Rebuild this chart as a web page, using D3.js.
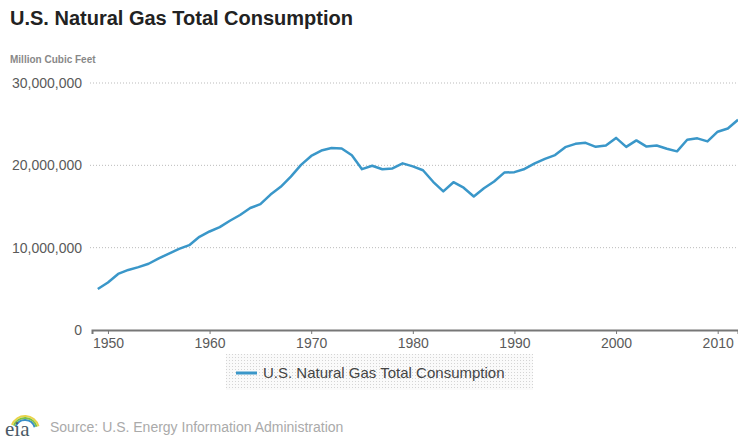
<!DOCTYPE html>
<html>
<head>
<meta charset="utf-8">
<script src="https://cdn.jsdelivr.net/npm/d3@7"></script>
<style>
  body { margin: 0; background: #fff; }
  svg { display: block; font-family: "Liberation Sans", Arial, sans-serif; }
</style>
</head>
<body>
<svg id="mainSvg" width="738" height="441"></svg>
<script>
// annual consumption, million cubic feet
var years = [];
for (var yr = 1949; yr <= 2012; yr++) years.push(yr);
var consumption = [
  4971152, 5766542, 6810162, 7294320, 7639270, 8048504, 8693657, 9288597, 9846286, 10302661,
  11321140, 11966537, 12489268, 13266513, 13970229, 14813808, 15279717, 16452403, 17388360, 18632207,
  20056240, 21139386, 21793454, 22101452, 22049363, 21223133, 19537593, 19946496, 19520581, 19627478,
  20240761, 19877293, 19403858, 18001055, 16834914, 17950557, 17280923, 16221296, 17210810, 18029588,
  19119357, 19173556, 19562067, 20228207, 20789765, 21247080, 22207282, 22609271, 22737342, 22245956,
  22405151, 23333121, 22238624, 23027021, 22276502, 22402546, 22014434, 21699071, 23103793, 23277008,
  22910078, 24086797, 24477425, 25533448
];
var yTicks = [0, 10000000, 20000000, 30000000];
var xTicks = [1950, 1960, 1970, 1980, 1990, 2000, 2010];
var seriesName = "U.S. Natural Gas Total Consumption";

var svg = d3.select("#mainSvg");
var x = d3.scaleLinear().domain([1948.43, 2012]).range([92, 738]);
var y = d3.scaleLinear().domain([0, 30000000]).range([330, 83]);
var fmt = d3.format(",");

// title
svg.append("text").attr("x", 10).attr("y", 25)
  .attr("font-size", 20).attr("font-weight", "bold").attr("fill", "#222")
  .text("U.S. Natural Gas Total Consumption");
svg.append("text").attr("x", 10).attr("y", 63)
  .attr("font-size", 10).attr("font-weight", "bold").attr("fill", "#888")
  .text("Million Cubic Feet");

// gridlines
svg.selectAll("line.grid").data(yTicks.filter(function(d) { return d > 0; })).enter()
  .append("line").attr("class", "grid")
  .attr("x1", 90).attr("x2", 738)
  .attr("y1", function(d) { return y(d); }).attr("y2", function(d) { return y(d); })
  .attr("stroke", "#bbb").attr("stroke-width", 1).attr("stroke-dasharray", "1,2");

// y labels
svg.selectAll("text.ylab").data(yTicks).enter()
  .append("text").attr("class", "ylab")
  .attr("x", 82).attr("y", function(d) { return y(d); })
  .attr("dy", "0.35em").attr("text-anchor", "end")
  .attr("font-size", 14).attr("fill", "#5a5a5a")
  .text(function(d) { return fmt(d); });

// x axis
var xAxis = d3.axisBottom(x).tickValues(xTicks).tickFormat(d3.format("d")).tickSize(4).tickPadding(4);
var gx = svg.append("g").attr("transform", "translate(0,330)").call(xAxis);
gx.select(".domain").attr("stroke", "#777").attr("stroke-width", 2);
gx.selectAll(".tick line").attr("stroke", "#777");
gx.selectAll(".tick text").attr("font-size", 14).attr("fill", "#5a5a5a")
  .attr("font-family", "Liberation Sans, Arial, sans-serif");

// line
var data = years.map(function(d, i) { return {year: d, value: consumption[i]}; });
var line = d3.line().x(function(d) { return x(d.year); }).y(function(d) { return y(d.value); });
svg.append("path").datum(data).attr("d", line)
  .attr("fill", "none").attr("stroke", "#3a97c9").attr("stroke-width", 2.5)
  .attr("stroke-linejoin", "round");

// legend
var defs = svg.append("defs");
var pat = defs.append("pattern").attr("id", "dots").attr("width", 3).attr("height", 3)
  .attr("patternUnits", "userSpaceOnUse");
pat.append("rect").attr("width", 3).attr("height", 3).attr("fill", "#fafafa");
pat.append("rect").attr("width", 1).attr("height", 1).attr("fill", "#d4d4d4");
var lg = svg.append("g").attr("transform", "translate(226,354)");
lg.append("rect").attr("width", 307).attr("height", 36).attr("fill", "url(#dots)");
lg.append("line").attr("x1", 10).attr("x2", 31).attr("y1", 19).attr("y2", 19)
  .attr("stroke", "#3a97c9").attr("stroke-width", 3);
lg.append("text").attr("x", 37).attr("y", 24)
  .attr("font-size", 15).attr("fill", "#444").text(seriesName);

// footer: eia logo
var arc = d3.arc().startAngle(-1.2).endAngle(1.3);
var logo = svg.append("g").attr("transform", "translate(25,430)");
[["#3a8fc9", 9], ["#7cc04a", 11], ["#e8d44a", 13]].forEach(function(c) {
  logo.append("path").attr("d", arc.innerRadius(c[1]).outerRadius(c[1] + 2)()).attr("fill", c[0]);
});
svg.append("text").attr("x", 5).attr("y", 436)
  .attr("font-family", "Liberation Serif, Times New Roman, serif")
  .attr("font-size", 21).attr("fill", "#4a5a66").text("eia");
svg.append("text").attr("x", 50).attr("y", 432)
  .attr("font-size", 14).attr("fill", "#aaa")
  .text("Source: U.S. Energy Information Administration");
</script>
</body>
</html>
